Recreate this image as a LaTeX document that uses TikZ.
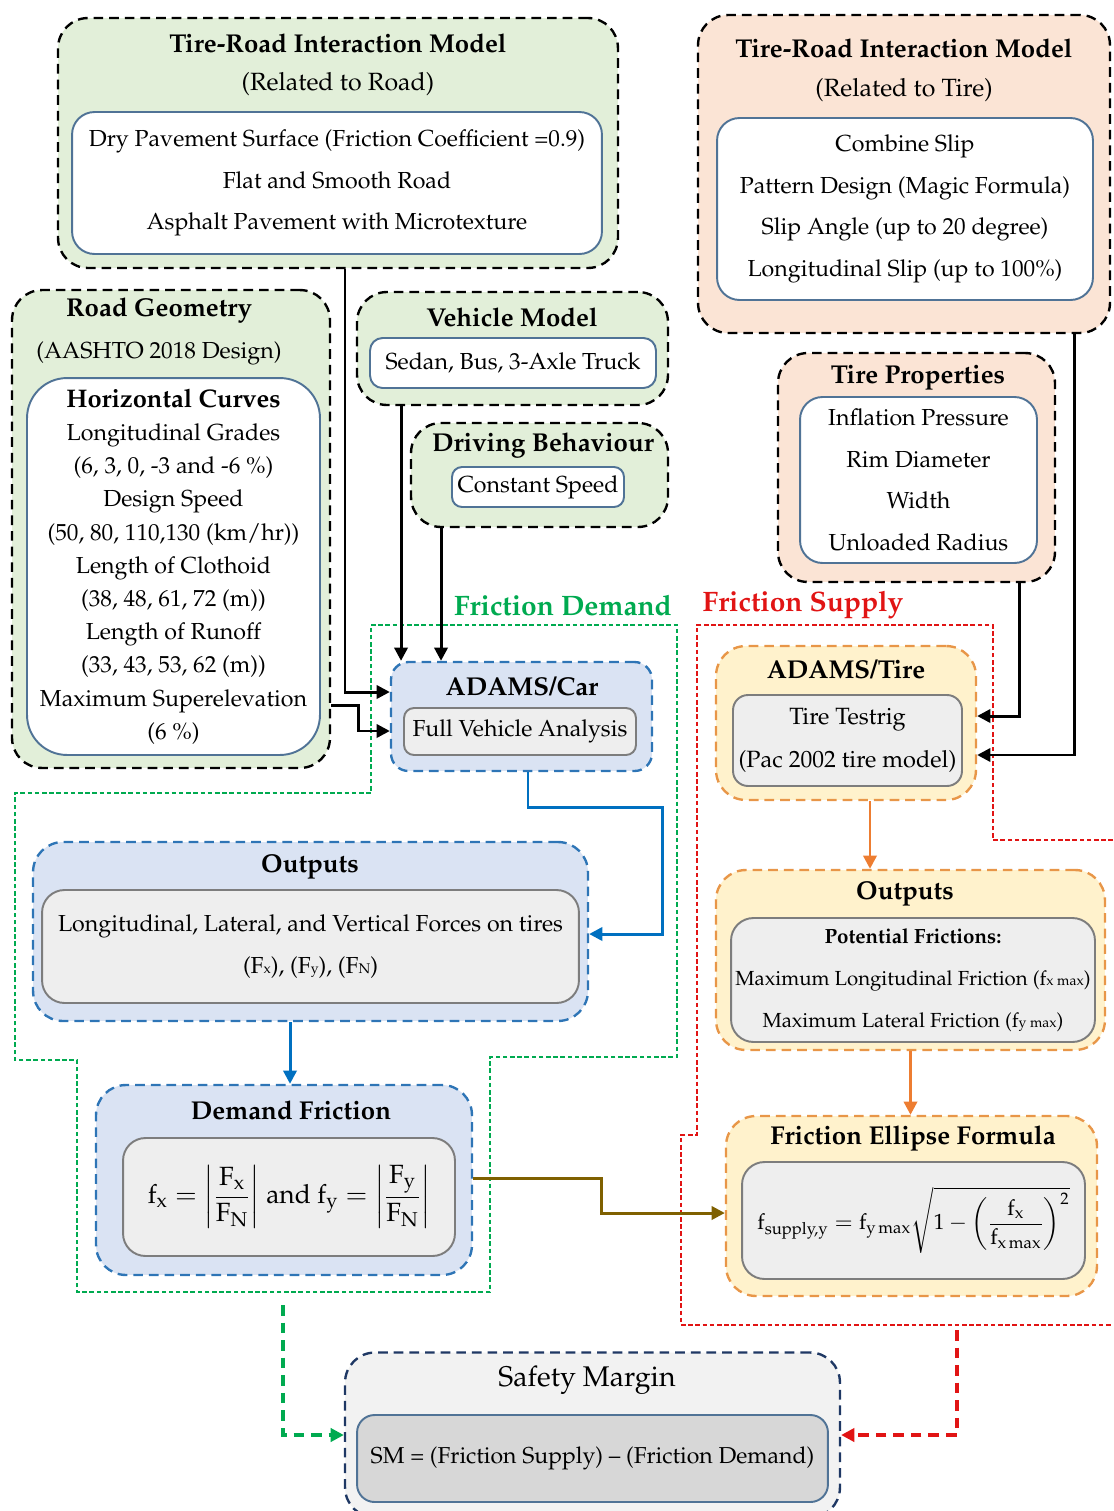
\documentclass[tikz,border=0pt]{standalone}
\usepackage[T1]{fontenc}
\usepackage{amsmath}
\usepackage{mathpazo}
\usepackage{xcolor}
\usepackage{tikz}
\usetikzlibrary{positioning, arrows.meta}
\definecolor{roadgreen}{RGB}{226,239,217}
\definecolor{tirepeach}{RGB}{251,228,213}
\definecolor{carblue}{RGB}{218,227,243}
\definecolor{carline}{RGB}{46,117,182}
\definecolor{simyellow}{RGB}{255,242,204}
\definecolor{simline}{RGB}{232,150,72}
\definecolor{innerline}{RGB}{80,115,150}
\definecolor{boxgray}{RGB}{238,238,238}
\definecolor{boxline}{RGB}{125,125,125}
\definecolor{smfill}{RGB}{242,242,242}
\definecolor{sminner}{RGB}{215,215,215}
\definecolor{smline}{RGB}{31,56,100}
\definecolor{demgreen}{RGB}{0,170,80}
\definecolor{supred}{RGB}{225,20,20}
\definecolor{flowblue}{RGB}{0,112,192}
\definecolor{floworange}{RGB}{237,125,49}
\definecolor{flowolive}{RGB}{127,96,0}
\tikzset{
  grp/.style={draw, dash pattern=on 5.5pt off 3.4pt, line width=1.35pt, rounded corners=0.6cm, inner sep=0pt},
  roadgrp/.style={grp, fill=roadgreen},
  tiregrp/.style={grp, fill=tirepeach},
  cargrp/.style={grp, draw=carline, fill=carblue},
  simgrp/.style={grp, draw=simline, fill=simyellow},
  smgrp/.style={grp, draw=smline, fill=smfill},
  wbox/.style={draw=innerline, line width=1.1pt, fill=white, rounded corners=0.45cm, align=center, inner sep=0pt, font=\fontsize{13.2}{23.6}\selectfont},
  gbox/.style={wbox, draw=boxline, fill=boxgray},
  head/.style={font=\fontsize{14.7}{17}\selectfont\bfseries},
  subhead/.style={font=\fontsize{14.2}{17}\selectfont},
  region/.style={line width=0.95pt, dash pattern=on 2.6pt off 1.5pt},
  tag/.style={font=\fontsize{16}{18}\selectfont\bfseries},
  flow/.style={line width=1.7pt, -{Triangle[length=7.5pt,width=7.5pt]}},
  bigflow/.style={flow, line width=2.5pt, dash pattern=on 6pt off 4pt},
}
\newcommand{\sml}[1]{{\fontsize{8}{8}\selectfont #1}}

\begin{document}
\begin{tikzpicture}[x=0.02cm, y=-0.02cm]
  \useasboundingbox (0,0) rectangle (1113,1511);
  % demand and supply regions
  \draw[region, draw=demgreen] (371,625) -- (677,625) -- (677,1057) -- (490,1057) -- (490,1292) -- (77,1292) -- (77,1060) -- (15,1060) -- (15,793) -- (371,793) -- cycle;
  \draw[region, draw=supred] (1113,840) -- (993,840) -- (993,625) -- (697,625) -- (697,1135) -- (681,1135) -- (681,1325) -- (1113,1325);
  \node[tag, text=demgreen] (demtag) at (563,605) {Friction Demand};
  \node[tag, text=supred] (suptag) at (803,605) {Friction Supply};

  % inputs
  \node[roadgrp, minimum width=11.2cm, minimum height=5cm] (roadm) at (338,143) {};
  \node[head] (roadm-t) at (338,43) {Tire-Road Interaction Model};
  \node[subhead] (roadm-s) at (338,84) {(Related to Road)};
  \node[wbox, minimum width=10.6cm, minimum height=2.84cm] (roadm-in) at (337,183) {Dry Pavement Surface (Friction Coefficient =0.9)\\Flat and Smooth Road\\Asphalt Pavement with Microtexture};

  \node[tiregrp, minimum width=8.24cm, minimum height=6.36cm] (tirem) at (904,174) {};
  \node[head] (tirem-t) at (904,48) {Tire-Road Interaction Model};
  \node[subhead] (tirem-s) at (904,90) {(Related to Tire)};
  \node[wbox, minimum width=7.52cm, minimum height=3.64cm] (tirem-in) at (905,209) {Combine Slip\\Pattern Design (Magic Formula)\\Slip Angle (up to 20 degree)\\Longitudinal Slip (up to 100\%)};

  \node[roadgrp, minimum width=6.36cm, minimum height=9.56cm] (geo) at (171,529) {};
  \node[head] (geo-t) at (159,310) {Road Geometry};
  \node[font=\fontsize{13.2}{16}\selectfont] (geo-s) at (159,353) {(AASHTO 2018 Design)};
  \node[wbox, rounded corners=0.8cm, minimum width=5.86cm, minimum height=7.54cm, font=\fontsize{13.2}{18.9}\selectfont] (geo-in) at (173.5,566.5) {{\fontsize{14.5}{17}\selectfont\bfseries Horizontal Curves}\\Longitudinal Grades\\(6, 3, 0, -3 and -6 \%)\\Design Speed\\(50, 80, 110,130 (km/hr))\\Length of Clothoid\\(38, 48, 61, 72 (m))\\Length of Runoff\\(33, 43, 53, 62 (m))\\Maximum Superelevation\\(6 \%)};

  \node[roadgrp, minimum width=6.22cm, minimum height=2.26cm] (veh) at (512.5,348.5) {};
  \node[head] (veh-t) at (512,317) {Vehicle Model};
  \node[wbox, rounded corners=0.25cm, minimum width=5.72cm, minimum height=1cm] (veh-in) at (513,363) {Sedan, Bus, 3-Axle Truck};

  \node[roadgrp, minimum width=5.14cm, minimum height=2.08cm] (drive) at (539.5,475) {};
  \node[head] (drive-t) at (543,445) {Driving Behaviour};
  \node[wbox, rounded corners=0.2cm, minimum width=3.44cm, minimum height=0.8cm] (drive-in) at (538,487) {Constant Speed};

  \node[tiregrp, minimum width=5.54cm, minimum height=4.58cm] (tprop) at (916.5,467.5) {};
  \node[head] (tprop-t) at (918,378) {Tire Properties};
  \node[wbox, minimum width=4.74cm, minimum height=3.32cm] (tprop-in) at (918.5,480) {Inflation Pressure\\Rim Diameter\\Width\\Unloaded Radius};

  % simulation
  \node[cargrp, rounded corners=0.35cm, minimum width=5.22cm, minimum height=2.18cm] (car) at (521.5,716.5) {};
  \node[head] (car-t) at (522,686) {ADAMS/Car};
  \node[gbox, rounded corners=0.2cm, minimum width=4.64cm, minimum height=0.94cm] (car-in) at (520,731.5) {Full Vehicle Analysis};

  \node[simgrp, minimum width=5.2cm, minimum height=3.08cm] (atire) at (846,723) {};
  \node[head] (atire-t) at (846,669) {ADAMS/Tire};
  \node[gbox, rounded corners=0.3cm, minimum width=4.58cm, minimum height=1.82cm, font=\fontsize{13.4}{24.4}\selectfont] (atire-in) at (847.5,740.5) {Tire Testrig\\(Pac 2002 tire model)};

  % outputs
  \node[cargrp, minimum width=11.1cm, minimum height=3.58cm] (outl) at (310.5,931.5) {};
  \node[head] (outl-t) at (310,867) {Outputs};
  \node[gbox, minimum width=10.74cm, minimum height=2.26cm] (outl-in) at (310.5,946.5) {Longitudinal, Lateral, and Vertical Forces on tires\\(F\sml{x}), (F\sml{y}), (F\sml{N})};

  \node[simgrp, minimum width=7.78cm, minimum height=3.6cm] (outr) at (910.5,960) {};
  \node[head] (outr-t) at (905,894) {Outputs};
  \node[gbox, minimum width=7.28cm, minimum height=2.48cm, font=\fontsize{11.6}{23.8}\selectfont] (outr-in) at (913,980) {{\fontsize{11.7}{12}\selectfont\bfseries Potential Frictions:}\\Maximum Longitudinal Friction (f\sml{x max})\\Maximum Lateral Friction (f\sml{y max})};

  % friction
  \node[cargrp, minimum width=7.52cm, minimum height=3.8cm] (dem) at (284,1180) {};
  \node[head] (dem-t) at (291,1110) {Demand Friction};
  \node[gbox, minimum width=6.64cm, minimum height=2.36cm, font=\fontsize{15}{18}\selectfont] (dem-in) at (289,1197) {$\mathrm{f_x} = \left|\dfrac{\mathrm{F_x}}{\mathrm{F_N}}\right|$ and $\mathrm{f_y} = \left|\dfrac{\mathrm{F_y}}{\mathrm{F_N}}\right|$};

  \node[simgrp, minimum width=7.42cm, minimum height=3.6cm] (ell) at (911.5,1206) {};
  \node[head] (ell-t) at (913,1138) {Friction Ellipse Formula};
  \node[gbox, minimum width=6.86cm, minimum height=2.34cm, font=\fontsize{12.5}{15}\selectfont] (ell-in) at (913.5,1220.5) {$\mathrm{f_{supply,y}} = \mathrm{f_{y\,max}}\sqrt{1-\left(\dfrac{\mathrm{f_x}}{\mathrm{f_{x\,max}}}\right)^{2}}$};

  % safety margin
  \node[smgrp, minimum width=9.9cm, minimum height=3.3cm] (sm) at (592.5,1435) {};
  \node[font=\fontsize{16.2}{18}\selectfont] (sm-t) at (587,1380) {Safety Margin};
  \node[wbox, fill=sminner, rounded corners=0.35cm, minimum width=9.42cm, minimum height=1.74cm, font=\fontsize{13.1}{15}\selectfont] (sm-in) at (592.5,1458.5) {SM = (Friction Supply) -- (Friction Demand)};

  \coordinate (dembot) at (283,1305);
  \coordinate (supbot) at (957,1330);

  % connectors
  \draw[flow] ([xshift=0.14cm]roadm.south) |- ([yshift=0.49cm]car.west);
  \draw[flow] ([yshift=-3.54cm]geo.east) -- ++(27,0) |- ([yshift=-0.29cm]car.west);
  \draw[flow] ([xshift=-2.23cm]veh.south) -- ([xshift=-2.23cm]veh.south |- car.north);
  \draw[flow] ([xshift=-1.97cm]drive.south) -- ([xshift=-1.97cm]drive.south |- car.north);
  \draw[flow] ([xshift=2.07cm]tprop.south) |- ([yshift=0.14cm]atire.east);
  \draw[flow] ([xshift=3.42cm]tirem.south) |- ([yshift=-0.64cm]atire.east);
  \draw[flow, draw=flowblue] ([xshift=0.13cm]car.south) -- ++(0,35) -- ++(134,0) |- ([yshift=-0.05cm]outl.east);
  \draw[flow, draw=flowblue] ([xshift=-0.41cm]outl.south) -- ([xshift=-0.41cm]outl.south |- dem.north);
  \draw[flow, draw=floworange] ([xshift=0.48cm]atire.south) -- ([xshift=0.48cm]atire.south |- outr.north);
  \draw[flow, draw=floworange] (outr.south) -- (outr.south |- ell.north);
  \draw[flow, draw=flowolive] ([yshift=0.04cm]dem.east) -- ++(128,0) |- ([yshift=-0.14cm]ell.west);
  \draw[bigflow, draw=demgreen] (dembot) |- (sm.west);
  \draw[bigflow, draw=supred] (supbot) |- (sm.east);
\end{tikzpicture}
\end{document}
